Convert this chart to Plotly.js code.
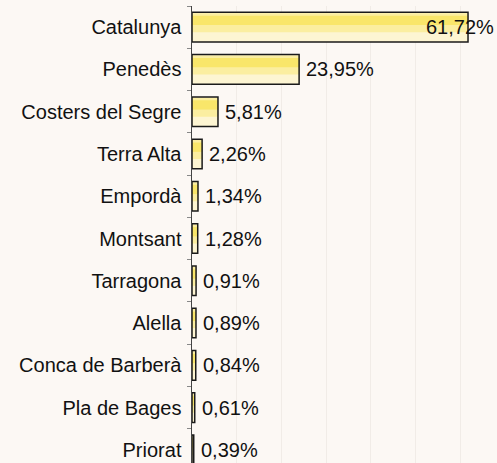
<!DOCTYPE html>
<html>
<head>
<meta charset="utf-8">
<script src="https://cdn.plot.ly/plotly-3.0.1.min.js"></script>
<style>
html,body{margin:0;padding:0;background:#fcf8f4;}
#chart{width:497px;height:463px;}
</style>
</head>
<body>
<div id="chart"></div>
<script>
const categories = ["Catalunya","Penedès","Costers del Segre","Terra Alta","Empordà","Montsant","Tarragona","Alella","Conca de Barberà","Pla de Bages","Priorat"];
const values = [61.72, 23.95, 5.81, 2.26, 1.34, 1.28, 0.91, 0.89, 0.84, 0.61, 0.39];
const labels = ["61,72%","23,95%","5,81%","2,26%","1,34%","1,28%","0,91%","0,89%","0,84%","0,61%","0,39%"];

const FONT = "Liberation Sans, Arial, sans-serif";
const FS = 20;
const maxV = Math.max(...values);

const base = {type:"bar", orientation:"h", x:values, y:categories, hoverinfo:"skip"};
const traces = [
  Object.assign({}, base, {width:0.7, offset:-0.35, marker:{color:"#fdf5d2", line:{width:0}}}),
  Object.assign({}, base, {width:0.45, offset:-0.33, marker:{color:"#fbeea0", line:{width:0}}}),
  Object.assign({}, base, {width:0.22, offset:-0.27, marker:{color:"#f9e66a", line:{width:0}}}),
  Object.assign({}, base, {width:0.7, offset:-0.35, marker:{color:"rgba(0,0,0,0)", line:{color:"#1a1a1a", width:1.5}}})
];

const annotations = categories.map((c,i)=>{
  const big = values[i] === maxV;
  return {
    x: values[i], y: c, xref:"x", yref:"y",
    text: labels[i], showarrow:false,
    xanchor: big ? "right" : "left",
    xshift: big ? 28 : 5,
    font:{family:FONT, size:FS, color:"#111"}
  };
});

const layout = {
  width:497, height:463,
  margin:{l:192, r:0, t:6, b:0, pad:0},
  paper_bgcolor:"#fcf8f4", plot_bgcolor:"#fcf8f4",
  barmode:"overlay",
  showlegend:false,
  xaxis:{range:[0,68.2], dtick:10, showgrid:true, gridcolor:"#f1ece7", gridwidth:1,
         showticklabels:false, zeroline:false, showline:false, ticks:""},
  yaxis:{type:"category", range:[10.31,-0.5], showline:true, linecolor:"#444", linewidth:1,
         ticks:"outside", tickson:"boundaries", ticklen:4, tickcolor:"#888",
         showgrid:false, ticksuffix:" ",
         tickfont:{family:FONT, size:FS, color:"#111"}},
  annotations: annotations
};

Plotly.newPlot("chart", traces, layout, {staticPlot:true, displayModeBar:false});
</script>
</body>
</html>
